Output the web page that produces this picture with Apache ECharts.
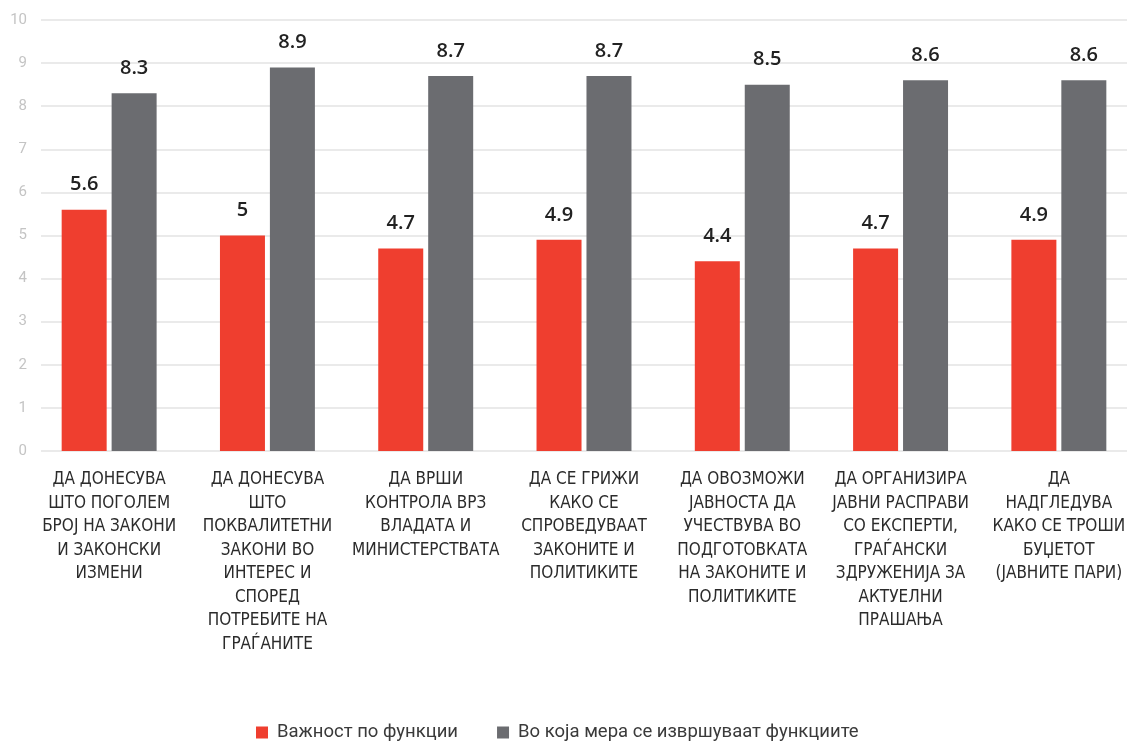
<!DOCTYPE html>
<html><head><meta charset="utf-8">
<script src="https://cdn.jsdelivr.net/npm/echarts@6/dist/echarts.min.js"></script>
<style>html,body{margin:0;padding:0;background:#fff}#c{width:1127px;height:744px}</style>
</head><body><div id="c"></div>
<script>
const categories = [
  "ДА ДОНЕСУВА\nШТО ПОГОЛЕМ\nБРОЈ НА ЗАКОНИ\nИ ЗАКОНСКИ\nИЗМЕНИ",
  "ДА ДОНЕСУВА\nШТО\nПОКВАЛИТЕТНИ\nЗАКОНИ ВО\nИНТЕРЕС И\nСПОРЕД\nПОТРЕБИТЕ НА\nГРАЃАНИТЕ",
  "ДА ВРШИ\nКОНТРОЛА ВРЗ\nВЛАДАТА И\nМИНИСТЕРСТВАТА",
  "ДА СЕ ГРИЖИ\nКАКО СЕ\nСПРОВЕДУВААТ\nЗАКОНИТЕ И\nПОЛИТИКИТЕ",
  "ДА ОВОЗМОЖИ\nЈАВНОСТА ДА\nУЧЕСТВУВА ВО\nПОДГОТОВКАТА\nНА ЗАКОНИТЕ И\nПОЛИТИКИТЕ",
  "ДА ОРГАНИЗИРА\nЈАВНИ РАСПРАВИ\nСО ЕКСПЕРТИ,\nГРАЃАНСКИ\nЗДРУЖЕНИЈА ЗА\nАКТУЕЛНИ\nПРАШАЊА",
  "ДА\nНАДГЛЕДУВА\nКАКО СЕ ТРОШИ\nБУЏЕТОТ\n(ЈАВНИТЕ ПАРИ)"
];
const seriesNames = ["Важност по функции", "Во која мера се извршуваат функциите"];
const importance = [5.6, 5, 4.7, 4.9, 4.4, 4.7, 4.9];
const performance = [8.3, 8.9, 8.7, 8.7, 8.5, 8.6, 8.6];
const yMin = 0, yMax = 10, yStep = 1;

const chart = echarts.init(document.getElementById('c'), null, {renderer: 'canvas'});
const valueLabel = {
  show: true, position: 'top', distance: 15,
  fontFamily: "'Open Sans', sans-serif", fontSize: 20, fontWeight: 600, color: '#222'
};
chart.setOption({
  animation: false,
  backgroundColor: '#fff',
  grid: [
    {left: 30, width: 1108, top: 20, bottom: 293, containLabel: false, outerBoundsMode: 'none'},
    {left: 41, right: 0, top: 20, bottom: 293, containLabel: false, outerBoundsMode: 'none'}
  ],
  legend: {
    top: 718, left: 251,
    itemWidth: 12, itemHeight: 12, itemGap: 39,
    icon: 'rect',
    textStyle: {fontFamily: 'Roboto, sans-serif', fontSize: 18.5, color: '#3a3a3a', padding: [0,0,0,4]},
    data: seriesNames
  },
  xAxis: [
    {
      type: 'category', gridIndex: 0, data: categories,
      axisLine: {show: false}, axisTick: {show: false},
      axisLabel: {
        interval: 0, margin: 17,
        fontFamily: "'Liberation Sans Narrow', 'DejaVu Sans Condensed', Roboto, sans-serif",
        fontSize: 17, lineHeight: 23.5, color: '#2b2b2b', align: 'center'
      }
    },
    {type: 'value', gridIndex: 1, show: false, min: 0, max: 1}
  ],
  yAxis: [
    {type: 'value', gridIndex: 0, min: yMin, max: yMax, interval: yStep, show: false, splitLine: {show: false}},
    {
      type: 'value', gridIndex: 1, min: yMin, max: yMax, interval: yStep,
      axisLine: {show: false}, axisTick: {show: false},
      axisLabel: {margin: 14, fontFamily: 'Roboto, sans-serif', fontSize: 15, color: '#c4c4c4'},
      splitLine: {lineStyle: {color: '#e3e3e3', width: 1.5}}
    }
  ],
  series: [
    {
      name: seriesNames[0], type: 'bar', xAxisIndex: 0, yAxisIndex: 0,
      data: importance, barWidth: 45, barGap: '11%',
      itemStyle: {color: '#ef3e2f'}, label: valueLabel
    },
    {
      name: seriesNames[1], type: 'bar', xAxisIndex: 0, yAxisIndex: 0,
      data: performance, barWidth: 45, barGap: '11%',
      itemStyle: {color: '#6b6c70'}, label: valueLabel
    }
  ]
});
</script></body></html>
